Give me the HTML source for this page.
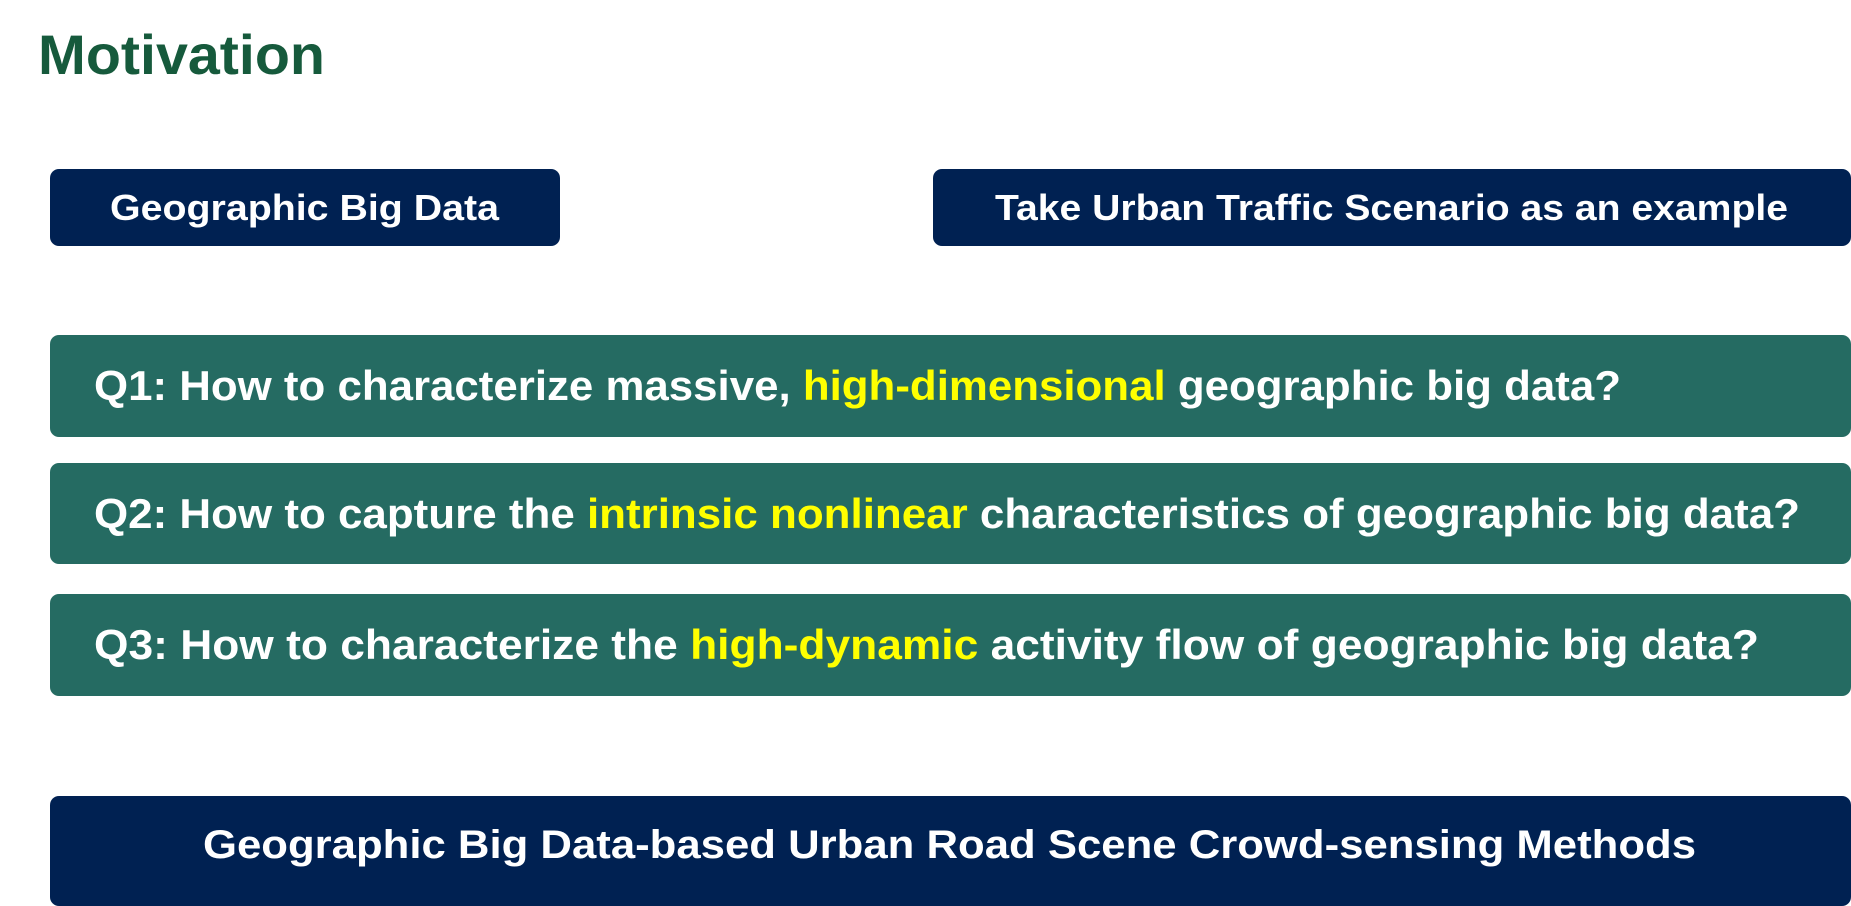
<!DOCTYPE html>
<html><head><meta charset="utf-8">
<style>
body{margin:0;width:1851px;height:897px;background:#fff;position:relative;overflow:hidden;font-family:"Liberation Sans",sans-serif;font-weight:bold;}
.b{position:absolute;border-radius:9px;color:#fff;display:flex;align-items:center;}
.navy{background:#002152;}
.teal{background:#256b62;}
.t{display:inline-block;white-space:nowrap;transform-origin:left center;}
.y{color:#ffff00;}
</style></head><body>
<div style="position:absolute;left:38px;top:22px;color:#165a3c;font-size:56px;"><span class="t" data-w="287">Motivation</span></div>
<div class="b navy" style="left:50px;top:169px;width:510px;height:77px;font-size:36px;"><span class="t" data-w="389" style="margin-left:60px">Geographic Big Data</span></div>
<div class="b navy" style="left:933px;top:169px;width:918px;height:77px;font-size:36px;"><span class="t" data-w="793" style="margin-left:62px">Take Urban Traffic Scenario as an example</span></div>
<div class="b teal" style="left:50px;top:335px;width:1801px;height:102px;font-size:42px;"><span class="t" data-w="1527" style="margin-left:44px">Q1: How to characterize massive, <span class="y">high-dimensional</span> geographic big data?</span></div>
<div class="b teal" style="left:50px;top:463px;width:1801px;height:101px;font-size:42px;"><span class="t" data-w="1706" style="margin-left:44px">Q2: How to capture the <span class="y">intrinsic nonlinear</span> characteristics of geographic big data?</span></div>
<div class="b teal" style="left:50px;top:594px;width:1801px;height:102px;font-size:42px;"><span class="t" data-w="1665" style="margin-left:44px">Q3: How to characterize the <span class="y">high-dynamic</span> activity flow of geographic big data?</span></div>
<div class="b navy" style="left:50px;top:796px;width:1801px;height:110px;font-size:40px;"><span class="t" data-w="1493" style="margin-left:153px;margin-top:-12px">Geographic Big Data-based Urban Road Scene Crowd-sensing Methods</span></div>
<script>
document.querySelectorAll('.t').forEach(function(s){
  var w=s.getBoundingClientRect().width, tw=+s.getAttribute('data-w');
  if(w>0) s.style.transform='scaleX('+(tw/w)+')';
});
</script>
</body></html>
